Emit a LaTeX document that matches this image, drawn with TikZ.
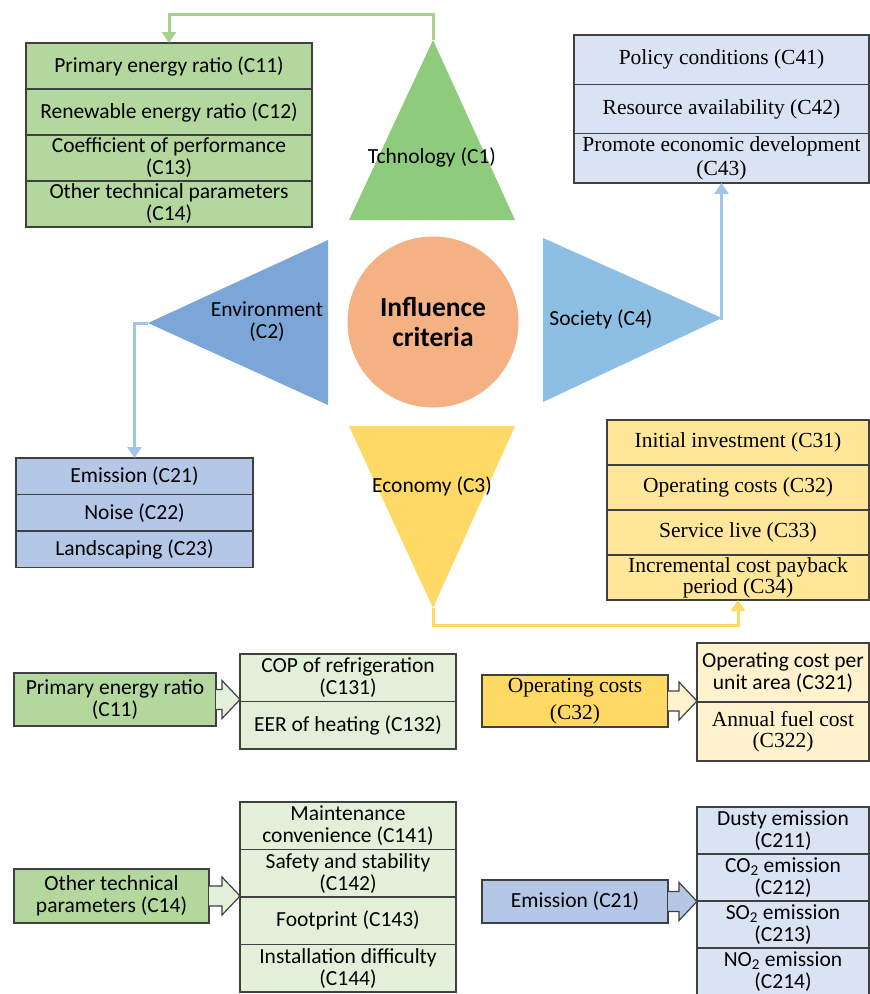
\documentclass[tikz,border=0pt]{standalone}
\usepackage{fontspec}
\setmainfont{Liberation Serif}
\newfontfamily\calibri{Carlito}
\usetikzlibrary{positioning,calc,arrows.meta}

\definecolor{edge}{RGB}{64,64,64}
\definecolor{techgreen}{RGB}{143,203,125}
\definecolor{grnlist}{RGB}{180,215,158}
\definecolor{grnpale}{RGB}{226,240,217}
\definecolor{grnlink}{RGB}{169,209,142}
\definecolor{envblue}{RGB}{124,166,216}
\definecolor{envlist}{RGB}{180,199,231}
\definecolor{socblue}{RGB}{141,190,228}
\definecolor{soclist}{RGB}{218,227,243}
\definecolor{bluelink}{RGB}{162,196,232}
\definecolor{core}{RGB}{244,177,131}
\definecolor{ecoyellow}{RGB}{255,217,102}
\definecolor{ecolist}{RGB}{255,230,153}
\definecolor{ecopale}{RGB}{255,242,204}

\tikzset{
  rowbox/.style={draw=edge, line width=1.2pt, inner sep=1pt, outer sep=0pt, align=center, anchor=north west},
  sans/.style={font=\calibri\fontsize{21.5}{22}\selectfont},
  serif/.style={font=\fontsize{21.5}{21}\selectfont},
  link/.style={line width=3pt, -{Triangle[width=14pt,length=11pt]}},
  fatarr/.style={draw=edge, line width=1.2pt, line join=miter},
  crit/.style={sans, inner sep=0pt, align=center},
}

% block arrow from the east side of #1 to the west side of #2
\newcommand{\fatarrow}[3]{%
  \draw[fatarr, fill=#3] ($(#1.east)+(0,-10)$) -- ($(#1.east -| #2.west)+(-18,-10)$)
    -- ($(#1.east -| #2.west)+(-18,-19)$) -- (#1.east -| #2.west)
    -- ($(#1.east -| #2.west)+(-18,19)$) -- ($(#1.east -| #2.west)+(-18,10)$)
    -- ($(#1.east)+(0,10)$);}

\begin{document}
\begin{tikzpicture}[x=1pt, y=-1pt,
    techrow/.style={rowbox, sans, fill=grnlist, minimum width=286pt, minimum height=46pt},
    socrow/.style={rowbox, serif, fill=soclist, minimum width=295pt, minimum height=49.3pt},
    envrow/.style={rowbox, sans, fill=envlist, minimum width=237pt, minimum height=36.5pt},
    ecorow/.style={rowbox, serif, fill=ecolist, minimum width=262pt, minimum height=45pt}]
  \useasboundingbox (0,0) rectangle (870,994);

  % the four criteria and the core
  \fill[techgreen] (433,40) coordinate (tapex) -- (349,220) -- (515,220) -- cycle;
  \fill[envblue] (328,240) -- (328,405) -- (148,323) coordinate (etip) -- cycle;
  \fill[socblue] (543,238) -- (543,402) -- (722,318) coordinate (stip) -- cycle;
  \fill[ecoyellow] (349,426) -- (515,426) -- (433,608) coordinate (eapex) -- cycle;
  \node[crit] (tech) at (432,157) {Tchnology (C1)};
  \node[crit] (env) at (267,322) {Environment\\(C2)};
  \node[crit] (soc) at (601,319) {Society (C4)};
  \node[crit] (eco) at (432,486) {Economy (C3)};
  \node[circle, fill=core, minimum size=171pt, align=center,
        font=\calibri\bfseries\fontsize{27.5}{30}\selectfont] (core) at (433,322) {Influence\\criteria};

  % technology
  \node[techrow] (c11) at (26,43) {Primary energy ratio (C11)};
  \node[techrow, below=0pt of c11] (c12) {Renewable energy ratio (C12)};
  \node[techrow, below=0pt of c12] (c13) {Coefficient of performance\\(C13)};
  \node[techrow, below=0pt of c13] (c14) {Other technical parameters\\(C14)};

  % society
  \node[socrow] (c41) at (574,35) {Policy conditions (C41)};
  \node[socrow, below=0pt of c41] (c42) {Resource availability (C42)};
  \node[socrow, below=0pt of c42] (c43) {Promote economic development\\[3pt](C43)};

  % environment
  \node[envrow] (c21) at (16,458) {Emission (C21)};
  \node[envrow, below=0pt of c21] (c22) {Noise (C22)};
  \node[envrow, below=0pt of c22] (c23) {Landscaping (C23)};

  % economy
  \node[ecorow] (c31) at (607,420) {Initial investment (C31)};
  \node[ecorow, below=0pt of c31] (c32) {Operating costs (C32)};
  \node[ecorow, below=0pt of c32] (c33) {Service live (C33)};
  \node[ecorow, below=0pt of c33] (c34) {Incremental cost payback\\period (C34)};

  % links
  \draw[link, grnlink] (tapex) -- ++(0,-26) -| (c11.north);
  \draw[link, bluelink] (etip) -| (c21.north);
  \draw[link, bluelink] (stip) -| (c43.south);
  \draw[link, ecoyellow] (eapex) -- ++(0,17) -| (c34.south);

  % sub-criteria
  \node[rowbox, sans, fill=grnlist, minimum width=202pt, minimum height=53pt] (p11) at (14,673) {Primary energy ratio\\(C11)};
  \node[rowbox, sans, fill=grnpale, minimum width=216pt, minimum height=47.5pt] (c131) at (240,654) {COP of refrigeration\\(C131)};
  \node[rowbox, sans, fill=grnpale, minimum width=216pt, minimum height=47.5pt, below=0pt of c131] (c132) {EER of heating (C132)};
  \fatarrow{p11}{c131}{grnpale}

  \node[rowbox, serif, fill=ecoyellow, minimum width=186pt, minimum height=52pt] (p32) at (482,675) {Operating costs\\[6pt](C32)};
  \node[rowbox, sans, fill=ecopale, minimum width=172pt, minimum height=59pt] (c321) at (697,643) {Operating cost per\\unit area (C321)};
  \node[rowbox, serif, fill=ecopale, minimum width=172pt, minimum height=59pt, below=0pt of c321] (c322) {Annual fuel cost\\(C322)};
  \fatarrow{p32}{c321}{ecopale}

  \node[rowbox, sans, fill=grnlist, minimum width=195pt, minimum height=54pt] (p14) at (14,869) {Other technical\\parameters (C14)};
  \node[rowbox, sans, fill=grnpale, minimum width=216pt, minimum height=47.5pt] (c141) at (240,802) {Maintenance\\convenience (C141)};
  \node[rowbox, sans, fill=grnpale, minimum width=216pt, minimum height=47.5pt, below=0pt of c141] (c142) {Safety and stability\\(C142)};
  \node[rowbox, sans, fill=grnpale, minimum width=216pt, minimum height=47.5pt, below=0pt of c142] (c143) {Footprint (C143)};
  \node[rowbox, sans, fill=grnpale, minimum width=216pt, minimum height=47.5pt, below=0pt of c143] (c144) {Installation difficulty\\(C144)};
  \fatarrow{p14}{c141}{grnpale}

  \node[rowbox, sans, fill=envlist, minimum width=186pt, minimum height=43pt] (p21) at (482,880) {Emission (C21)};
  \node[rowbox, sans, fill=soclist, minimum width=172pt, minimum height=47pt] (c211) at (697,807) {Dusty emission\\(C211)};
  \node[rowbox, sans, fill=soclist, minimum width=172pt, minimum height=47pt, below=0pt of c211] (c212) {CO\textsubscript{2} emission\\(C212)};
  \node[rowbox, sans, fill=soclist, minimum width=172pt, minimum height=47pt, below=0pt of c212] (c213) {SO\textsubscript{2} emission\\(C213)};
  \node[rowbox, sans, fill=soclist, minimum width=172pt, minimum height=47pt, below=0pt of c213] (c214) {NO\textsubscript{2} emission\\(C214)};
  \fatarrow{p21}{c211}{envlist}
\end{tikzpicture}
\end{document}
